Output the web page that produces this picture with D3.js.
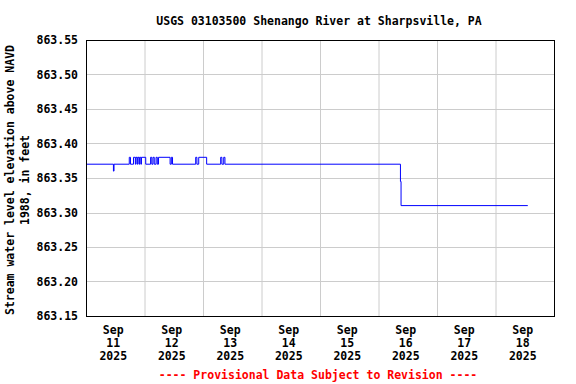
<!DOCTYPE html>
<html>
<head>
<meta charset="utf-8">
<script src="https://cdn.jsdelivr.net/npm/d3@7"></script>
<style>
  html, body { margin: 0; padding: 0; background: #fff; }
  svg { display: block; }
  text { font-family: "DejaVu Sans Mono", "Liberation Mono", monospace; font-weight: bold; font-size: 11.5px; }
</style>
</head>
<body>
<svg id="chart" width="576" height="384"></svg>
<script>
// ---- data (change points of 15-minute gage-height readings) ----
const times = [
  "2025-09-11T00:00", "2025-09-11T11:15", "2025-09-11T11:30", "2025-09-11T17:45",
  "2025-09-11T18:15", "2025-09-11T19:30", "2025-09-11T20:15", "2025-09-11T20:30",
  "2025-09-11T21:00", "2025-09-11T21:15", "2025-09-11T21:45", "2025-09-11T22:00",
  "2025-09-11T22:30", "2025-09-11T22:45", "2025-09-12T00:30", "2025-09-12T02:30",
  "2025-09-12T03:00", "2025-09-12T03:30", "2025-09-12T04:00", "2025-09-12T04:45",
  "2025-09-12T05:15", "2025-09-12T05:45", "2025-09-12T10:30", "2025-09-12T11:00",
  "2025-09-12T11:30", "2025-09-12T21:00", "2025-09-12T21:30", "2025-09-12T22:15",
  "2025-09-13T01:30", "2025-09-13T07:15", "2025-09-13T07:45", "2025-09-13T08:30",
  "2025-09-13T09:00", "2025-09-16T09:00", "2025-09-16T09:15", "2025-09-18T13:15"
];
const levels = [
  863.37, 863.36, 863.37, 863.38,
  863.37, 863.38, 863.37, 863.38,
  863.37, 863.38, 863.37, 863.38,
  863.37, 863.38, 863.37, 863.38,
  863.37, 863.38, 863.37, 863.38,
  863.37, 863.38, 863.37, 863.38,
  863.37, 863.38, 863.37, 863.38,
  863.37, 863.38, 863.37, 863.38,
  863.37, 863.345, 863.31, 863.31
];
const yTicks = [863.15, 863.20, 863.25, 863.30, 863.35, 863.40, 863.45, 863.50, 863.55];
const dayLabels = ["11", "12", "13", "14", "15", "16", "17", "18"];
const monthLabel = "Sep";
const yearLabel = "2025";
const title = "USGS 03103500 Shenango River at Sharpsville, PA";
const yTitle = ["Stream water level elevation above NAVD", "1988, in feet"];
const footer = "---- Provisional Data Subject to Revision ----";

// ---- layout ----
const M = { left: 86, right: 554, top: 40, bottom: 316 };
const parse = d3.timeParse("%Y-%m-%dT%H:%M");
const data = times.map((t, i) => ({ t: parse(t), v: levels[i] }));

const x = d3.scaleTime()
  .domain([parse("2025-09-11T00:00"), parse("2025-09-19T00:00")])
  .range([M.left, M.right]);
const y = d3.scaleLinear().domain([863.15, 863.55]).range([M.bottom, M.top]);

const svg = d3.select("#chart");

// grid
const dayStarts = d3.timeDay.range(parse("2025-09-12T00:00"), parse("2025-09-19T00:00"));
svg.append("g").selectAll("line").data(dayStarts).join("line")
  .attr("x1", d => x(d) + 0.5).attr("x2", d => x(d) + 0.5)
  .attr("y1", M.top).attr("y2", M.bottom)
  .attr("stroke", "#cccccc").attr("stroke-width", 1);
svg.append("g").selectAll("line").data(yTicks.slice(1, -1)).join("line")
  .attr("x1", M.left).attr("x2", M.right)
  .attr("y1", d => Math.round(y(d)) + 0.5).attr("y2", d => Math.round(y(d)) + 0.5)
  .attr("stroke", "#cccccc").attr("stroke-width", 1);

// data line
const line = d3.line().x(d => x(d.t)).y(d => y(d.v)).curve(d3.curveStepAfter);
svg.append("path").datum(data)
  .attr("d", line)
  .attr("fill", "none").attr("stroke", "#0000ff").attr("stroke-width", 1);

// frame
svg.append("rect")
  .attr("x", M.left + 0.5).attr("y", M.top + 0.5)
  .attr("width", M.right - M.left).attr("height", M.bottom - M.top)
  .attr("fill", "none").attr("stroke", "#000").attr("stroke-width", 1);

// y tick labels
svg.append("g").selectAll("text").data(yTicks).join("text")
  .attr("x", M.left - 8).attr("y", d => y(d) + 4)
  .attr("text-anchor", "end")
  .text(d => d.toFixed(2));

// x tick labels (centered at noon)
const noons = d3.timeDay.range(parse("2025-09-11T00:00"), parse("2025-09-19T00:00"))
  .map(d => d3.timeHour.offset(d, 12));
const xl = svg.append("g").selectAll("text").data(noons).join("text")
  .attr("text-anchor", "middle")
  .attr("transform", d => `translate(${x(d) - 2},0)`);
xl.append("tspan").attr("x", 0).attr("y", 334).text(monthLabel);
xl.append("tspan").attr("x", 0).attr("y", 347).text((d, i) => dayLabels[i]);
xl.append("tspan").attr("x", 0).attr("y", 360).text(yearLabel);

// title
svg.append("text")
  .attr("x", 319).attr("y", 25).attr("text-anchor", "middle")
  .text(title);

// y-axis title
const yt = svg.append("text")
  .attr("text-anchor", "middle")
  .attr("transform", `translate(0,180) rotate(-90)`);
yt.append("tspan").attr("x", 0).attr("y", 14).text(yTitle[0]);
yt.append("tspan").attr("x", 0).attr("y", 29).text(yTitle[1]);

// footer
svg.append("text")
  .attr("x", 318).attr("y", 379).attr("text-anchor", "middle")
  .attr("fill", "#ff0000")
  .text(footer);
</script>
</body>
</html>
